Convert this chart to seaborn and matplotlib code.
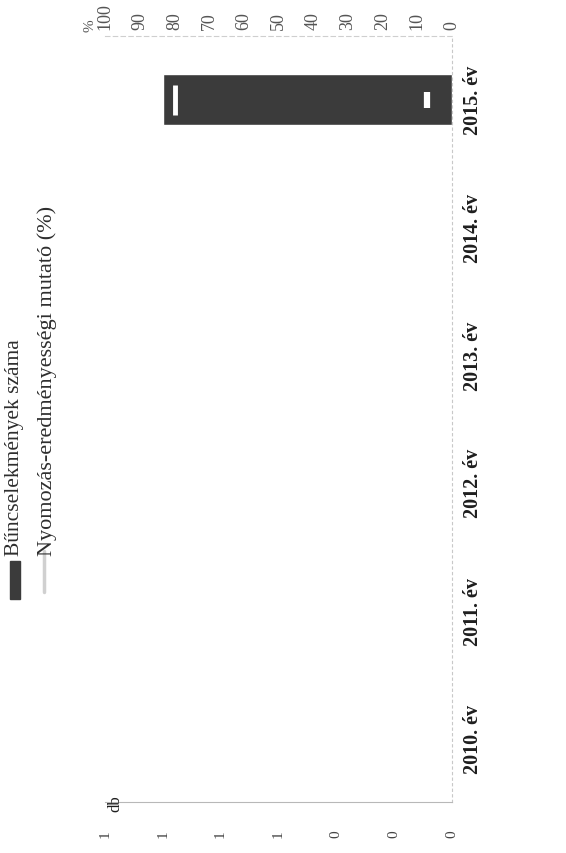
import numpy as np
import pandas as pd
import matplotlib
matplotlib.use('Agg')
import matplotlib.pyplot as plt
import matplotlib.transforms as mtransforms
from matplotlib.patches import Rectangle
from matplotlib.lines import Line2D
import seaborn as sns

# --- DATA ---
years = ['2010. év', '2011. év', '2012. év', '2013. év', '2014. év', '2015. év']
crimes = [0, 0, 0, 0, 0, 1]                                  # Bűncselekmények száma (db)
success_pct = [np.nan, np.nan, np.nan, np.nan, np.nan, np.nan]  # Nyomozás-eredményességi mutató (%)
db_ticks = [0, 0.2, 0.4, 0.6, 0.8, 1.0, 1.2]
pct_ticks = [0, 10, 20, 30, 40, 50, 60, 70, 80, 90, 100]
legend_labels = ['Bűncselekmények száma', 'Nyomozás-eredményességi mutató (%)']

# --- STYLE ---
sns.set_style('white')
plt.rcParams['font.family'] = ['Liberation Serif', 'DejaVu Serif']
TEXT = '#1e1e1e'
BAR = '#3b3b3b'
LINE = '#d0d0d0'

W, H = 566, 854
fig = plt.figure(figsize=(W / 100, H / 100), dpi=100)

# the scanned chart is turned 90 degrees: values run right-to-left, years bottom-to-top
left, right, top, bottom = 105, 452, 37, 803
ax = fig.add_axes([left / W, 1 - bottom / H, (right - left) / W, (bottom - top) / H])

order = years[::-1]
df = pd.DataFrame({'year': years, 'db': crimes})
sns.barplot(data=df, y='year', x='db', order=order, orient='h', color=BAR,
            saturation=1, width=0.4, ax=ax)
ax.set_xlim(1.2, 0)
ax.set_ylim(len(years) - 0.5, -0.5)
ax.set_xlabel('')
ax.set_ylabel('')

# white marks inside the bar (end and base)
for i, y in enumerate(order):
    v = crimes[years.index(y)]
    if v > 0:
        t_end = mtransforms.offset_copy(ax.transData, fig=fig, x=12, y=0, units='dots')
        ax.plot([v], [i], transform=t_end, marker='|', color='white', ms=21, mew=3.5)
        t_base = mtransforms.offset_copy(ax.transData, fig=fig, x=-25, y=0, units='dots')
        ax.plot([0], [i], transform=t_base, marker='|', color='white', ms=11, mew=4.5)

# category axis on the right, rotated labels
ax.yaxis.tick_right()
ax.set_yticks(range(len(order)))
ax.set_yticklabels(order, rotation=90, va='center', ha='left',
                   fontsize=14.5, fontweight='bold', color=TEXT)
ax.tick_params(axis='y', length=0, pad=8)

# db axis at the bottom
ax.set_xticks(db_ticks)
ax.set_xticklabels([f'{t:.0f}' for t in db_ticks], rotation=90, fontsize=11, color='#444444')
ax.tick_params(axis='x', length=0, pad=20)

ax.spines['left'].set_visible(False)
ax.spines['bottom'].set_color('#b8b8b8')
ax.spines['bottom'].set_linewidth(0.8)
ax.spines['right'].set_color('#c8c8c8')
ax.spines['right'].set_linestyle((0, (2, 3)))
ax.spines['top'].set_color('#cfcfcf')
ax.spines['top'].set_linestyle((0, (4, 3)))

# percent axis at the top
ax2 = ax.twiny()
ax2.plot(success_pct[::-1], range(len(order)), color=LINE, lw=2)
ax2.set_xlim(100, 0)
ax2.set_xticks(pct_ticks)
ax2.set_xticklabels([str(t) for t in pct_ticks], rotation=90, fontsize=13, color='#555555')
ax2.tick_params(axis='x', length=0, pad=5)
for s in ax2.spines.values():
    s.set_visible(False)

fig.text(90 / W, 1 - 26 / H, '%', rotation=90, ha='center', va='center', fontsize=11, color='#555555')
fig.text(115 / W, 1 - 804 / H, 'db', rotation=90, ha='center', va='center', fontsize=12, color=TEXT)

# legend, drawn turned like the rest of the scan
fig.patches.append(Rectangle((10 / W, 1 - 600 / H), 10 / W, 38 / H, transform=fig.transFigure,
                             color=BAR, zorder=3))
fig.lines.append(Line2D([44 / W, 44 / W], [1 - 593 / H, 1 - 552 / H], transform=fig.transFigure,
                        color=LINE, lw=2.5))
fig.text(15 / W, 1 - 556 / H, legend_labels[0], rotation=90, ha='center', va='bottom',
         fontsize=15.5, color='#2e2e2e')
fig.text(47 / W, 1 - 556 / H, legend_labels[1], rotation=90, ha='center', va='bottom',
         fontsize=16, color='#2e2e2e')

fig.savefig('out.png', dpi=100)
